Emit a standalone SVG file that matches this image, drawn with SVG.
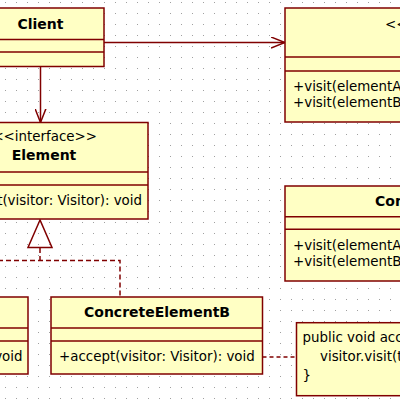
<svg xmlns="http://www.w3.org/2000/svg" width="400" height="400" viewBox="0 0 400 400">
<defs>
<pattern id="grid" x="5" y="2" width="11" height="11" patternUnits="userSpaceOnUse"><rect width="1" height="1" fill="#a0a0a0"/></pattern>
<marker id="open" viewBox="0 0 14 12" refX="14" refY="6" markerWidth="14" markerHeight="12" markerUnits="userSpaceOnUse" orient="auto"><path d="M0,0.5 L14,6 L0,11.5" fill="none" stroke="#800000" stroke-width="1.5"/></marker>
</defs>
<style>
.box{fill:#ffffc4;stroke:#800000;stroke-width:1.5}
.div{stroke:#800000;stroke-width:1.5}
.t{font-family:"DejaVu Sans",sans-serif;font-size:13.4px;fill:#000}
.b{font-family:"DejaVu Sans",sans-serif;font-size:14px;font-weight:bold;fill:#000}
.c{text-anchor:middle}
.e{text-anchor:end}
.ln{fill:none;stroke:#800000;stroke-width:1.5}
.dash{stroke-dasharray:5 3}
</style>
<rect width="400" height="400" fill="#ffffff"/>
<rect width="400" height="400" fill="url(#grid)"/>

<g id="connectors">
<line class="ln" x1="104" y1="42.5" x2="285" y2="42.5" marker-end="url(#open)"/>
<line class="ln" x1="40.5" y1="66.5" x2="40.5" y2="122.5" marker-end="url(#open)"/>
<path class="ln" d="M40,220 L28,247.5 L52,247.5 Z" fill="#ffffff"/>
<path class="ln dash" d="M40,248 V260.5 M-10,260.5 H120 V297"/>
<line class="ln" x1="262.5" y1="357" x2="296.5" y2="357" stroke-dasharray="4 3"/>
</g>

<g id="client">
<rect class="box" x="-23" y="8" width="127" height="58.5"/>
<line class="div" x1="-23" y1="39.5" x2="104" y2="39.5"/>
<line class="div" x1="-23" y1="52" x2="104" y2="52"/>
<text class="b c" x="40.5" y="29">Client</text>
</g>

<g id="visitor">
<rect class="box" x="285" y="8" width="280" height="114"/>
<line class="div" x1="285" y1="57" x2="565" y2="57"/>
<line class="div" x1="285" y1="71" x2="565" y2="71"/>
<text class="t" x="385" y="29">&lt;&lt;interface&gt;&gt;</text>
<text class="b c" x="440" y="47">Visitor</text>
<text class="t" x="293" y="91">+visit(elementA: ConcreteElementA): void</text>
<text class="t" x="293" y="107">+visit(elementB: ConcreteElementB): void</text>
</g>

<g id="element">
<rect class="box" x="-58" y="122.5" width="206" height="96.5"/>
<line class="div" x1="-58" y1="172" x2="148" y2="172"/>
<line class="div" x1="-58" y1="185" x2="148" y2="185"/>
<text class="t e" x="97" y="141">&lt;&lt;interface&gt;&gt;</text>
<text class="b c" x="44" y="160">Element</text>
<text class="t e" x="142" y="205">+accept(visitor: Visitor): void</text>
</g>

<g id="concreteVisitor">
<rect class="box" x="285" y="186" width="280" height="95"/>
<line class="div" x1="285" y1="216.7" x2="565" y2="216.7"/>
<line class="div" x1="285" y1="229.3" x2="565" y2="229.3"/>
<text class="b" x="375" y="206">ConcreteVisitor</text>
<text class="t" x="293" y="249.5">+visit(elementA: ConcreteElementA): void</text>
<text class="t" x="293" y="265.5">+visit(elementB: ConcreteElementB): void</text>
</g>

<g id="concreteElementA">
<rect class="box" x="-183.5" y="297" width="211.5" height="77"/>
<line class="div" x1="-183.5" y1="328" x2="28" y2="328"/>
<line class="div" x1="-183.5" y1="341" x2="28" y2="341"/>
<text class="b c" x="-80" y="317">ConcreteElementA</text>
<text class="t e" x="22.5" y="361">+accept(visitor: Visitor): void</text>
</g>

<g id="concreteElementB">
<rect class="box" x="51" y="297" width="211.5" height="77"/>
<line class="div" x1="51" y1="328" x2="262.5" y2="328"/>
<line class="div" x1="51" y1="341" x2="262.5" y2="341"/>
<text class="b c" x="157" y="317">ConcreteElementB</text>
<text class="t" x="59" y="361">+accept(visitor: Visitor): void</text>
</g>

<g id="note">
<rect class="box" x="296.5" y="322.7" width="260" height="73"/>
<text class="t" x="302.5" y="342">public void accept(Visitor visitor) {</text>
<text class="t" x="320" y="361">visitor.visit(this);</text>
<text class="t" x="302.5" y="380">}</text>
</g>
</svg>
